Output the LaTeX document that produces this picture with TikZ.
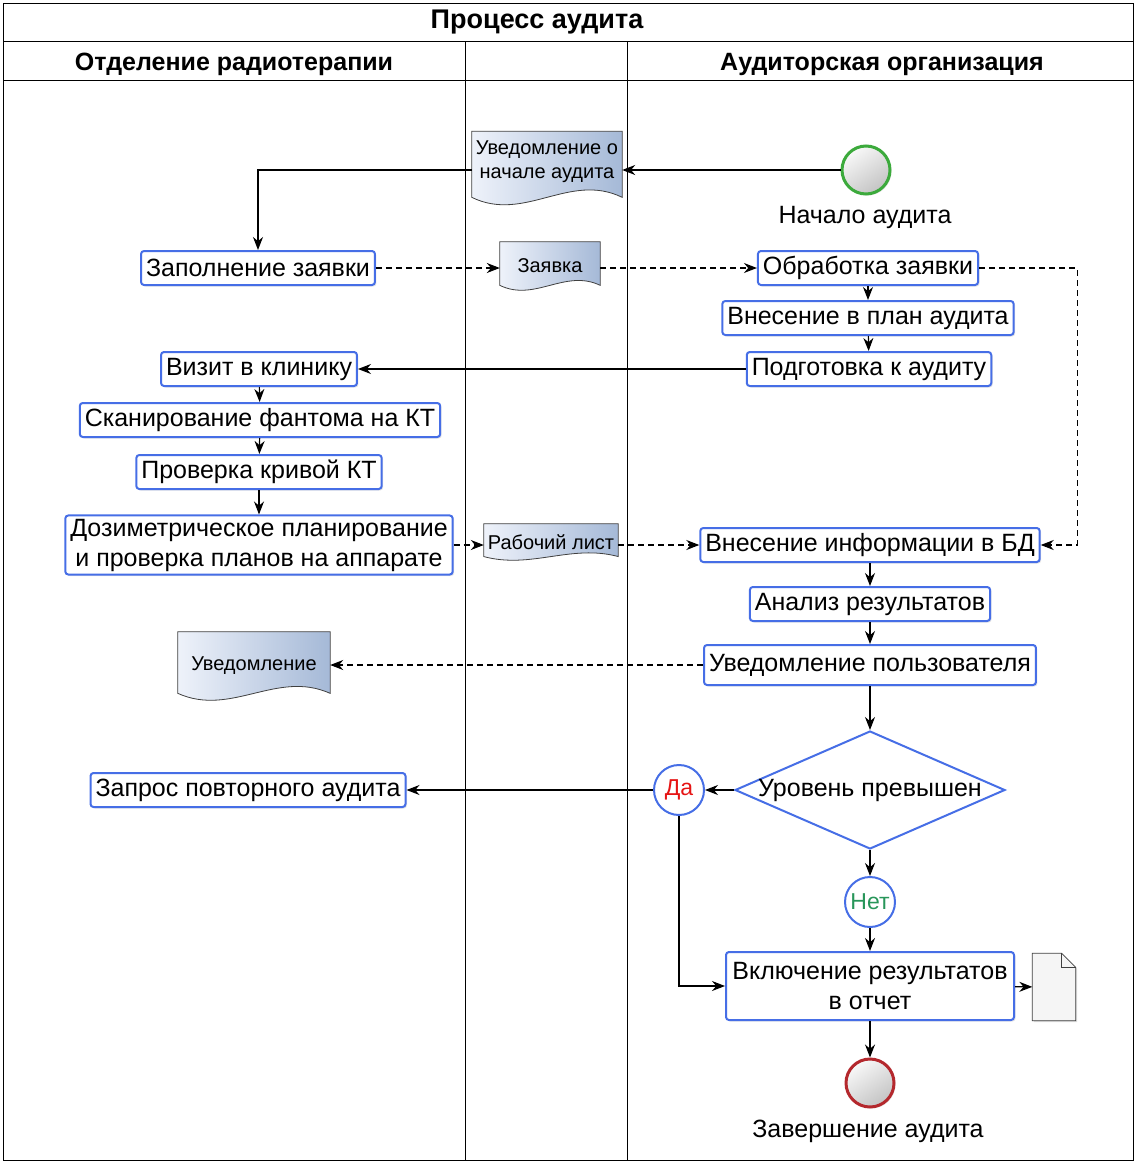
\documentclass[tikz,border=0pt]{standalone}
\usepackage{fontspec}
\setmainfont{Liberation Sans}
\usepackage{tikz}
\usetikzlibrary{arrows.meta, shapes.geometric, shadows, calc}
\usepackage{xcolor}
\definecolor{taskblue}{RGB}{70, 110, 230}
\definecolor{startgreen}{RGB}{60, 170, 60}
\definecolor{endred}{RGB}{180, 40, 45}
\definecolor{docleft}{RGB}{238, 242, 250}
\definecolor{docright}{RGB}{165, 185, 215}
\definecolor{yesred}{RGB}{230, 20, 20}
\definecolor{nogreen}{RGB}{40, 150, 90}
\definecolor{eventgray}{RGB}{195, 195, 195}
\definecolor{filegray}{RGB}{245, 245, 245}

\pgfdeclarelayer{background}
\pgfsetlayers{background,main}

\tikzset{
  task/.style={draw=taskblue, line width=2pt, rounded corners=3pt, fill=white, align=center,
    inner xsep=5pt, minimum height=34pt, font=\fontsize{25}{30}\selectfont,
    drop shadow={shadow xshift=1.5pt, shadow yshift=-1.5pt, opacity=0.2}},
  gate/.style={circle, draw=taskblue, line width=2pt, fill=white, minimum size=50pt,
    inner sep=0pt, font=\fontsize{23}{26}\selectfont},
  event/.style={circle, line width=3pt, minimum size=48pt, inner sep=0pt,
    top color=gray!5, bottom color=eventgray, shading angle=35,
    drop shadow={shadow xshift=1.5pt, shadow yshift=-1.5pt, opacity=0.2}},
  docnode/.style={inner sep=0pt, align=center, font=\fontsize{20}{24}\selectfont},
  doc/.style={draw=black!75, line width=0.8pt, left color=docleft, right color=docright},
  filedoc/.style={draw=black!75, line width=0.8pt, fill=filegray,
    drop shadow={shadow xshift=1.5pt, shadow yshift=-1.5pt, opacity=0.25}},
  flow/.style={->, line width=1.2pt},
  msg/.style={->, line width=1.1pt, dash pattern=on 6pt off 4pt},
  lane/.style={line width=1pt},
  hdr/.style={font=\bfseries\fontsize{25}{28}\selectfont},
  lbl/.style={font=\fontsize{25}{28}\selectfont},
}

% document with a wavy lower edge round a named node
\newcommand{\docshape}[1]{%
  \begin{pgfonlayer}{background}
    \draw[doc] let \p1=(#1.north west), \p2=(#1.south east) in
      (\x1,\y1) -- (\x2,\y1) -- (\x2,{\y2+0.1*(\y1-\y2)})
      .. controls ({\x2-0.35*(\x2-\x1)},{\y2+0.45*(\y1-\y2)}) and ({\x1+0.35*(\x2-\x1)},{\y2-0.25*(\y1-\y2)})
      .. (\x1,{\y2+0.1*(\y1-\y2)}) -- cycle;
  \end{pgfonlayer}}

% page with a folded corner round a named node
\newcommand{\fileshape}[1]{%
  \draw[filedoc] let \p1=(#1.north west), \p2=(#1.south east) in
    (\x1,\y1) -- ({\x2-14pt},\y1) -- (\x2,{\y1-14pt}) -- (\x2,\y2) -- (\x1,\y2) -- cycle;
  \draw[black!75, line width=0.8pt] let \p1=(#1.north west), \p2=(#1.south east) in
    ({\x2-14pt},\y1) -- ({\x2-14pt},{\y1-14pt}) -- (\x2,{\y1-14pt});}

\begin{document}
\begin{tikzpicture}[x=1pt, y=-1pt, >={Stealth[length=13pt, width=10pt]}]

  \useasboundingbox (0,0) rectangle (1136,1164);

  % Pool and lanes
  \draw[lane] (3,4) rectangle (1133,1160);
  \draw[lane] (3,42) -- (1133,42);
  \draw[lane] (3,80) -- (1133,80);
  \draw[lane] (465,42) -- (465,1160);
  \draw[lane] (627,42) -- (627,1160);
  \node[hdr, font=\bfseries\fontsize{27}{30}\selectfont] (pooltitle) at (537,22) {Процесс аудита};
  \node[hdr] (clinic) at (234,64) {Отделение радиотерапии};
  \node[hdr] (auditor) at (882,64) {Аудиторская организация};

  % Start
  \node[event, draw=startgreen] (start) at (866,170) {};
  \node[lbl] (startlbl) at (865,217) {Начало аудита};
  \node[docnode, minimum width=150pt, minimum height=73pt, text depth=16pt] (notice) at (547,168)
    {Уведомление о\\начале аудита};
  \docshape{notice}

  % Application
  \node[task] (fill) at (258,268) {Заполнение заявки};
  \node[docnode, minimum width=100pt, minimum height=48pt] (request) at (550,266) {Заявка};
  \docshape{request}
  \node[task] (proc) at (868,268) {Обработка заявки};
  \node[task] (plan) at (868,318) {Внесение в план аудита};
  \node[task] (prep) at (869,369) {Подготовка к аудиту};

  % Visit
  \node[task] (visit) at (259,369) {Визит в клинику};
  \node[task] (scan) at (260,420) {Сканирование фантома на КТ};
  \node[task] (curve) at (259,472) {Проверка кривой КТ};
  \node[task] (dosim) at (259,545) {Дозиметрическое планирование\\и проверка планов на аппарате};
  \node[docnode, minimum width=134pt, minimum height=36pt] (worksheet) at (551,542) {Рабочий лист};
  \docshape{worksheet}

  % Results
  \node[task] (dbin) at (870,545) {Внесение информации в БД};
  \node[task] (anal) at (870,604) {Анализ результатов};
  \node[task, minimum height=40pt] (notif) at (870,665) {Уведомление пользователя};
  \node[docnode, minimum width=152pt, minimum height=68pt] (usernote) at (254,666) {Уведомление};
  \docshape{usernote}

  % Decision
  \node[diamond, draw=taskblue, line width=2pt, fill=white, minimum width=270pt, minimum height=118pt,
    inner sep=0pt, font=\fontsize{25}{28}\selectfont] (level) at (870,790)
    {\makebox[0pt]{Уровень превышен}};
  \node[gate, text=yesred] (yes) at (679,790) {Да};
  \node[task] (again) at (248,790) {Запрос повторного аудита};
  \node[gate, text=nogreen] (no) at (870,902) {Нет};
  \node[task, minimum width=288pt, minimum height=68pt] (incl) at (870,986) {Включение результатов\\в отчет};
  \node[minimum width=43pt, minimum height=67pt, inner sep=0pt] (report) at (1054,987) {};
  \fileshape{report}

  % End
  \node[event, draw=endred] (finish) at (870,1083) {};
  \node[lbl] (finishlbl) at (868,1131) {Завершение аудита};

  % Connectors
  \draw[flow] (start.west) -- (start.west -| notice.east);
  \draw[flow] (start.west -| notice.west) -| (fill.north);
  \draw[msg] (fill.east) -- (fill.east -| request.west);
  \draw[msg] (proc.west -| request.east) -- (proc.west);
  \draw[msg] (proc.east) -- ++(98,0) |- (dbin.east);
  \draw[flow] (proc) -- (plan);
  \draw[flow] (plan) -- (prep);
  \draw[flow] (prep) -- (visit);
  \draw[flow] (visit) -- (scan);
  \draw[flow] (scan) -- (curve);
  \draw[flow] (curve) -- (dosim);
  \draw[msg] (dosim.east) -- (dosim.east -| worksheet.west);
  \draw[msg] (dosim.east -| worksheet.east) -- (dbin.west);
  \draw[flow] (dbin) -- (anal);
  \draw[flow] (anal) -- (notif);
  \draw[msg] (notif.west) -- (notif.west -| usernote.east);
  \draw[flow] (notif) -- (level);
  \draw[flow] (level) -- (yes);
  \draw[flow] (yes) -- (again);
  \draw[flow] (yes) |- (incl);
  \draw[flow] (level) -- (no);
  \draw[flow] (no) -- (incl);
  \draw[flow] (incl) -- (report);
  \draw[flow] (incl) -- (finish);

\end{tikzpicture}
\end{document}
